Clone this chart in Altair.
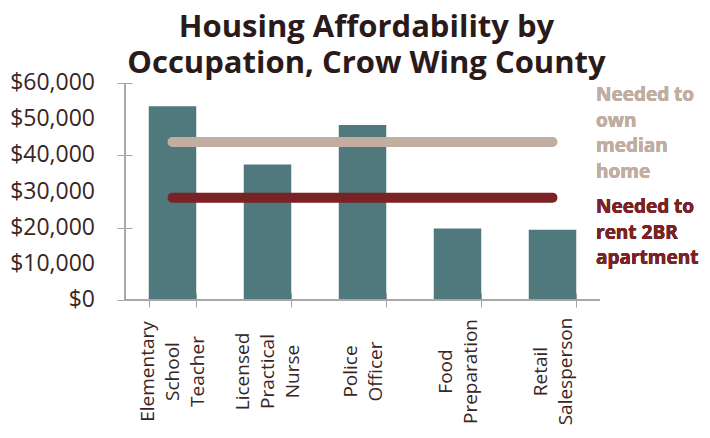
import altair as alt
import pandas as pd

occupations = ["Elementary School Teacher", "Licensed Practical Nurse", "Police Officer",
               "Food Preparation", "Retail Salesperson"]
wages = [53600, 37500, 48400, 19800, 19400]
own_needed = 43700
rent_needed = 28300
y_ticks = [0, 10000, 20000, 30000, 40000, 50000, 60000]
title_lines = ["Housing Affordability by", "Occupation, Crow Wing County"]
own_label = ["Needed to", "own", "median", "home"]
rent_label = ["Needed to", "rent 2BR", "apartment"]

W, H = 475, 217
FONT = "Open Sans"
TXT = "#3A2525"
AX = "#A6A6A6"

bars_df = pd.DataFrame({"occ": occupations, "wage": wages})
own_df = pd.DataFrame({"occ": [occupations[0], occupations[-1]], "v": [own_needed, own_needed]})
rent_df = pd.DataFrame({"occ": [occupations[0], occupations[-1]], "v": [rent_needed, rent_needed]})
ticks_df = pd.DataFrame({"t": y_ticks})

xscale = alt.Scale(domain=occupations, paddingInner=0.5, paddingOuter=0.25)
yscale = alt.Scale(domain=[0, 60000], nice=False)

LH = 25
xaxis = alt.Axis(title=None, tickBand="extent", offset=-7, tickSize=14, domain=False,
                 tickColor=AX, labelAngle=270, labelAlign="center", labelBaseline="middle",
                 labelPadding=64, labelFontSize=19, labelFont=FONT, labelColor=TXT,
                 labelLineHeight=LH, labelExpr="split(datum.label, ' ')", labelLimit=300,
                 labelOverlap=False,
                 labelOffset={"condition": {"test": "length(split(datum.value, ' ')) > 2",
                                            "value": -LH},
                              "value": -LH / 2})
yaxis = alt.Axis(title=None, values=y_ticks, offset=-7, tickSize=15, labels=False,
                 domain=False, grid=False, tickColor=AX)

bars = alt.Chart(bars_df).mark_bar(color="#50797D").encode(
    x=alt.X("occ:N", sort=None, scale=xscale, axis=xaxis),
    y=alt.Y("wage:Q", scale=yscale, axis=yaxis),
)

xdom = alt.Chart(bars_df).mark_rule(color=AX, strokeWidth=1).encode(y=alt.datum(0))
ydom = alt.Chart(bars_df).mark_rule(color=AX, strokeWidth=1).encode(x=alt.value(0))

ylabels = alt.Chart(ticks_df).mark_text(
    align="right", baseline="middle", font=FONT, fontSize=23, color=TXT).encode(
    x=alt.value(-30),
    y=alt.Y("t:Q", scale=yscale, axis=yaxis),
    text=alt.Text("t:Q", format="$,d"))

own_line = alt.Chart(own_df).mark_line(color="#C1AEA1", strokeWidth=10, strokeCap="round").encode(
    x=alt.X("occ:N", sort=None, scale=xscale, axis=xaxis),
    y=alt.Y("v:Q", scale=yscale, axis=yaxis))
rent_line = alt.Chart(rent_df).mark_line(color="#7B2224", strokeWidth=10, strokeCap="round").encode(
    x=alt.X("occ:N", sort=None, scale=xscale, axis=xaxis),
    y=alt.Y("v:Q", scale=yscale, axis=yaxis))

own_text = alt.Chart(bars_df).mark_text(
    text=own_label, align="left", baseline="top", font=FONT, fontSize=19, fontWeight="bold",
    color="#C1AEA1", lineHeight=25.5).encode(x=alt.value(471), y=alt.value(3))
rent_text = alt.Chart(bars_df).mark_text(
    text=rent_label, align="left", baseline="top", font=FONT, fontSize=19, fontWeight="bold",
    color="#7B2224", lineHeight=25.5).encode(x=alt.value(471), y=alt.value(115))

chart = alt.layer(bars, xdom, ydom, ylabels, own_line, rent_line, own_text, rent_text).properties(
    width=W, height=H,
    title=alt.Title(title_lines, fontSize=31, font=FONT, fontWeight="bold", color="#2B1A1A",
                    anchor="middle", frame="group", lineHeight=36, offset=-8, dx=4),
    autosize=alt.AutoSizeParams(type="none"),
    padding={"left": 117, "top": 75, "right": 102, "bottom": 130},
).configure_view(stroke=None)

chart.save("out.html", embed_options={"renderer": "svg", "actions": False})
